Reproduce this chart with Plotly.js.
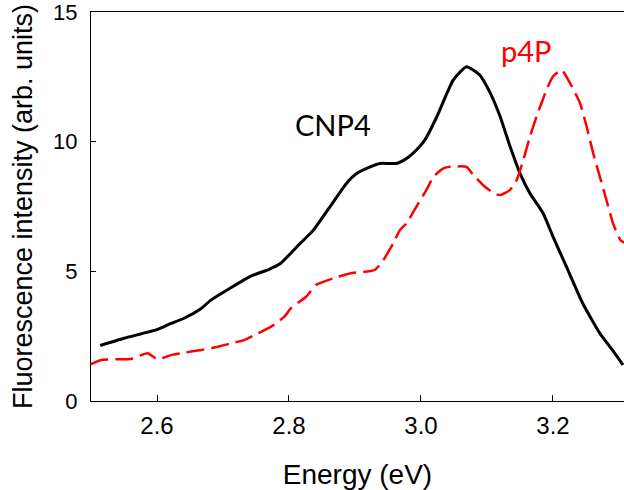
<!DOCTYPE html>
<html>
<head>
<meta charset="utf-8">
<script src="https://cdn.plot.ly/plotly-3.0.1.min.js"></script>
<style>html,body{margin:0;padding:0;background:#fff;}#chart{width:624px;height:490px;}</style>
</head>
<body>
<div id="chart"></div>
<script>
var cnp4Energy = [2.514, 2.55, 2.601, 2.62, 2.641, 2.667, 2.682, 2.71, 2.74, 2.77, 2.787, 2.812, 2.837, 2.862, 2.887, 2.903, 2.923, 2.938, 2.963, 2.978, 2.993, 3.006, 3.024, 3.049, 3.069, 3.089, 3.105, 3.12, 3.135, 3.15, 3.165, 3.185, 3.2, 3.22, 3.245, 3.271, 3.29, 3.306];
var cnp4Intensity = [2.14, 2.42, 2.76, 2.98, 3.19, 3.57, 3.9, 4.34, 4.79, 5.08, 5.30, 5.95, 6.59, 7.49, 8.39, 8.78, 9.03, 9.16, 9.16, 9.35, 9.68, 10.07, 10.96, 12.38, 12.89, 12.57, 11.87, 10.96, 9.81, 8.78, 8.01, 7.24, 6.34, 5.2, 3.77, 2.61, 1.97, 1.39];
var p4pEnergy = [2.5, 2.515, 2.54, 2.56, 2.576, 2.586, 2.601, 2.621, 2.641, 2.667, 2.687, 2.712, 2.732, 2.753, 2.773, 2.793, 2.803, 2.826, 2.841, 2.867, 2.892, 2.917, 2.93, 2.943, 2.958, 2.968, 2.978, 2.993, 3.008, 3.019, 3.034, 3.044, 3.069, 3.079, 3.094, 3.11, 3.12, 3.135, 3.145, 3.155, 3.165, 3.175, 3.19, 3.2, 3.213, 3.226, 3.241, 3.251, 3.261, 3.271, 3.281, 3.291, 3.302, 3.308];
var p4pIntensity = [1.42, 1.58, 1.61, 1.62, 1.77, 1.84, 1.61, 1.77, 1.86, 1.97, 2.06, 2.22, 2.35, 2.61, 2.87, 3.25, 3.58, 4.02, 4.47, 4.73, 4.92, 4.99, 5.05, 5.44, 6.08, 6.59, 6.85, 7.49, 8.13, 8.65, 8.97, 9.03, 9.03, 8.72, 8.33, 8.01, 7.94, 8.14, 8.52, 9.29, 10.19, 10.96, 11.99, 12.51, 12.77, 12.25, 11.48, 10.58, 9.55, 8.65, 7.75, 6.85, 6.21, 6.1];
var xTicks = [2.6, 2.8, 3.0, 3.2];
var xTickLabels = ['2.6', '2.8', '3.0', '3.2'];
var yTicks = [0, 5, 10, 15];
var yTickLabels = ['0', '5', '10', '15'];

var traces = [
  {x: cnp4Energy, y: cnp4Intensity, type: 'scatter', mode: 'lines', name: 'CNP4',
   line: {color: '#000000', width: 3, shape: 'spline', smoothing: 0.5}},
  {x: p4pEnergy, y: p4pIntensity, type: 'scatter', mode: 'lines', name: 'p4P',
   line: {color: '#ff0000', width: 2.5, dash: '18px,7px', shape: 'spline', smoothing: 0.5}}
];

var layout = {
  width: 624, height: 490,
  margin: {l: 91, r: 0, t: 12, b: 89},
  paper_bgcolor: '#ffffff', plot_bgcolor: '#ffffff',
  showlegend: false,
  font: {family: 'Arial, "Liberation Sans", sans-serif', color: '#000000'},
  xaxis: {
    range: [2.5, 3.3076], tickvals: xTicks, ticktext: xTickLabels,
    ticks: 'inside', ticklen: 6, tickcolor: '#000', tickwidth: 1,
    showline: true, linecolor: '#000', linewidth: 1, mirror: true,
    showgrid: false, zeroline: false,
    tickfont: {size: 24, color: '#000'}, ticklabelstandoff: 3,
    title: {text: 'Energy (eV)', font: {size: 28, color: '#000'}, standoff: 26}
  },
  yaxis: {
    range: [0, 15], tickvals: yTicks, ticktext: yTickLabels,
    ticks: 'inside', ticklen: 5, tickcolor: '#000', tickwidth: 1,
    showline: true, linecolor: '#000', linewidth: 1,
    showgrid: false, zeroline: false, ticklabeloverflow: 'allow',
    tickfont: {size: 22, color: '#000'}, ticklabelstandoff: 8,
    title: {text: 'Fluorescence intensity (arb. units)', font: {size: 27, color: '#000'}, standoff: 12}
  },
  annotations: [
    {x: 2.867, y: 10.68, xref: 'x', yref: 'y', text: 'CNP4', showarrow: false,
     font: {family: 'Lato, "Open Sans", sans-serif', size: 29, color: '#000000'}},
    {x: 3.16, y: 13.5, xref: 'x', yref: 'y', text: 'p4P', showarrow: false,
     font: {family: 'Lato, "Open Sans", sans-serif', size: 29, color: '#ff0000'}}
  ]
};

Plotly.newPlot('chart', traces, layout, {staticPlot: true, displayModeBar: false});
</script>
</body>
</html>
